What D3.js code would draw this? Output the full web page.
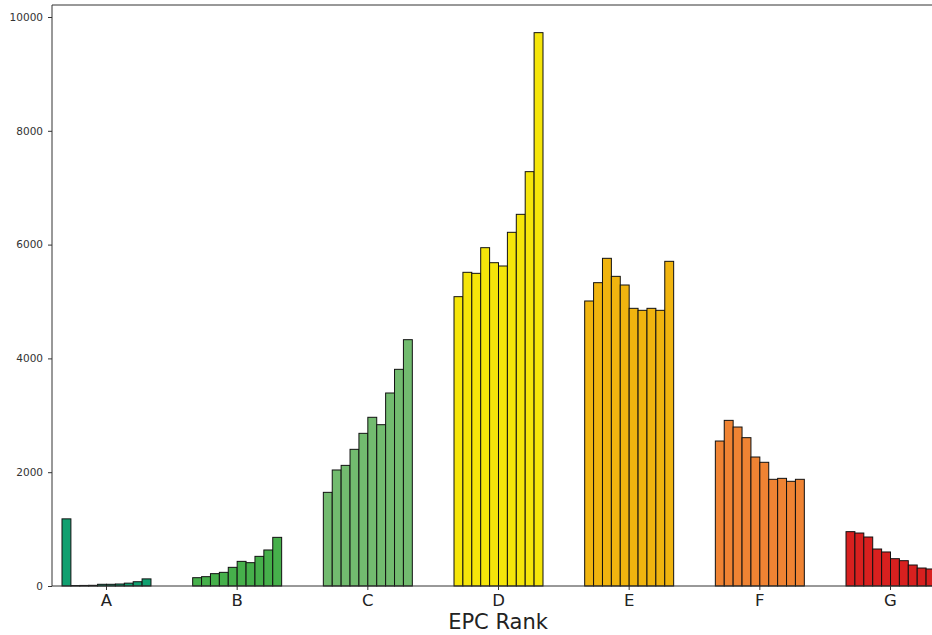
<!DOCTYPE html>
<html>
<head>
<meta charset="utf-8">
<script src="https://cdn.jsdelivr.net/npm/d3@7"></script>
<style>
  body { margin: 0; background: #fff; }
  svg { display: block; }
  svg text { font-family: "DejaVu Sans", sans-serif; }
</style>
</head>
<body>
<div id="visual"></div>
<script>
// EPC ranks and their colours
const ranks = ["A", "B", "C", "D", "E", "F", "G"];
const rankColors = ["#10a070", "#46b04b", "#72bb6f", "#f5e50a", "#f0b40f", "#ef8333", "#d8201f"];

// counts per rank, ten bars each
const countsA = [1180, 8, 10, 12, 30, 30, 35, 50, 75, 125];
const countsB = [146, 164, 217, 240, 328, 433, 410, 521, 633, 855];
const countsC = [1646, 2039, 2120, 2402, 2683, 2965, 2835, 3392, 3808, 4329];
const countsD = [5085, 5513, 5495, 5946, 5682, 5624, 6216, 6532, 7282, 9725];
const countsE = [5009, 5331, 5759, 5442, 5290, 4880, 4845, 4880, 4845, 5706];
const countsF = [2548, 2911, 2794, 2607, 2267, 2174, 1875, 1892, 1840, 1875];
const countsG = [955, 931, 861, 650, 598, 480, 445, 369, 316, 299];

const yTicks = [0, 2000, 4000, 6000, 8000, 10000];

const allCounts = [countsA, countsB, countsC, countsD, countsE, countsF, countsG];

const width = 932, height = 635;
const margin = { left: 52, top: 5, bottom: 586 };

const svg = d3.select("#visual")
    .append("svg")
    .attr("width", width)
    .attr("height", height);

// scales
const x = d3.scaleBand()
    .domain(ranks)
    .range([62, 935])
    .paddingInner(0.319)
    .paddingOuter(0);

const xInner = d3.scaleBand()
    .domain(d3.range(10))
    .range([0, x.bandwidth()])
    .padding(0);

const y = d3.scaleLinear()
    .domain([0, 10211])
    .range([margin.bottom, margin.top]);

// bars
const groups = svg.append("g")
    .selectAll("g")
    .data(ranks)
    .enter()
    .append("g")
    .attr("transform", d => "translate(" + x(d) + ",0)");

groups.selectAll("rect")
    .data((d, i) => allCounts[i].map((v, j) => ({ v: v, j: j, c: rankColors[i] })))
    .enter()
    .append("rect")
    .attr("x", d => xInner(d.j))
    .attr("y", d => y(d.v))
    .attr("width", xInner.bandwidth())
    .attr("height", d => margin.bottom - y(d.v))
    .attr("fill", d => d.c)
    .attr("stroke", "#111")
    .attr("stroke-width", 1);

// y axis
const yAxis = svg.append("g")
    .attr("transform", "translate(" + margin.left + ",0)")
    .call(d3.axisLeft(y).tickValues(yTicks).tickFormat(d3.format("d")).tickSize(4).tickPadding(5).tickSizeOuter(0));
yAxis.select(".domain").remove();
yAxis.selectAll("line").attr("stroke", "#333");
yAxis.selectAll("text").attr("fill", "#333").style("font-size", "10.5px");

// x axis
const xAxis = svg.append("g")
    .attr("transform", "translate(0," + margin.bottom + ")")
    .call(d3.axisBottom(x).tickSize(4).tickPadding(4).tickSizeOuter(0));
xAxis.select(".domain").remove();
xAxis.selectAll("line").attr("stroke", "#333");
xAxis.selectAll("text").attr("fill", "#222").style("font-size", "16.5px");

// spines
svg.append("line").attr("x1", margin.left).attr("x2", margin.left).attr("y1", margin.top).attr("y2", margin.bottom)
    .attr("stroke", "#333").attr("stroke-width", 1);
svg.append("line").attr("x1", margin.left).attr("x2", width).attr("y1", margin.bottom).attr("y2", margin.bottom)
    .attr("stroke", "#333").attr("stroke-width", 1);
svg.append("line").attr("x1", margin.left).attr("x2", width).attr("y1", margin.top).attr("y2", margin.top)
    .attr("stroke", "#333").attr("stroke-width", 1);

// axis label
svg.append("text")
    .attr("x", (margin.left + width) / 2 + 6)
    .attr("y", 629)
    .attr("text-anchor", "middle")
    .attr("fill", "#222")
    .style("font-size", "21px")
    .text("EPC Rank");
</script>
</body>
</html>
